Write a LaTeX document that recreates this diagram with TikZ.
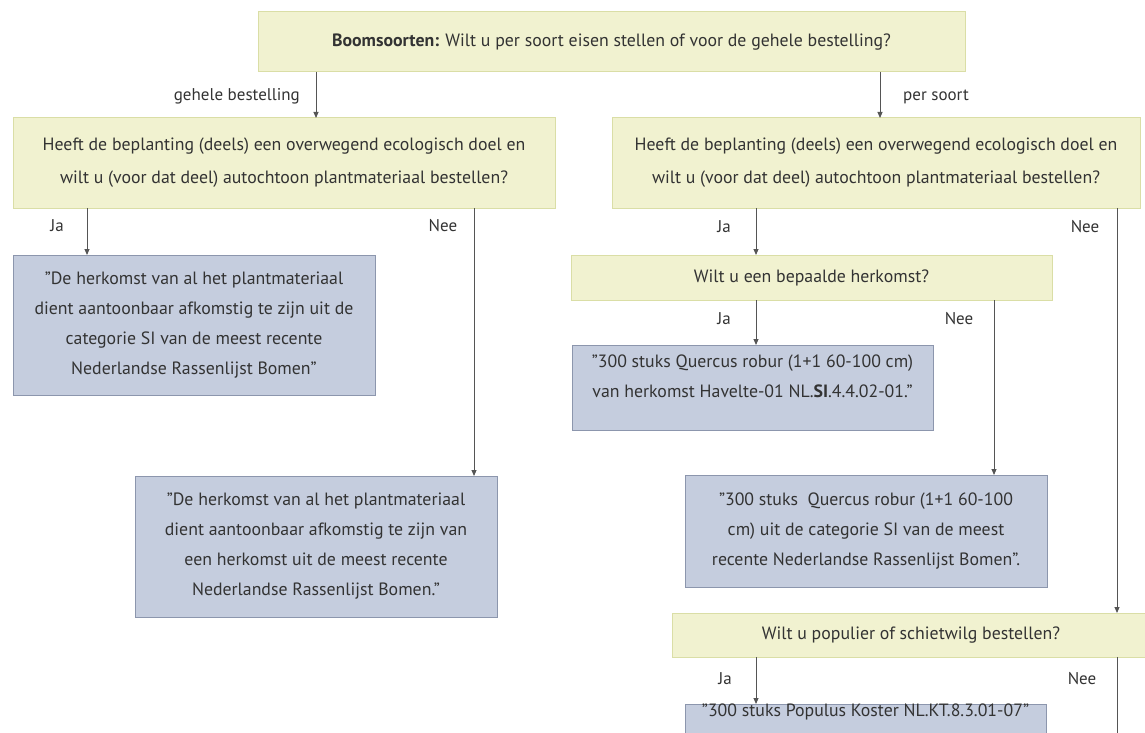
\documentclass[tikz,border=0pt]{standalone}
\usepackage{fontspec}
\setmainfont{PT Sans}
\usetikzlibrary{arrows.meta}
\definecolor{yfill}{HTML}{F1F2D0}
\definecolor{ydraw}{HTML}{DADEA6}
\definecolor{bfill}{HTML}{C5CDDE}
\definecolor{bdraw}{HTML}{8C96AD}
\definecolor{txt}{HTML}{333333}
\definecolor{arrc}{HTML}{555555}
\begin{document}
\begin{tikzpicture}[x=1pt,y=-1pt,
 box/.style={inner sep=0pt, outer sep=0pt, align=center, text=txt, line width=1pt},
 qbox/.style={box, fill=yfill, draw=ydraw, font=\fontsize{17.8}{33}\selectfont},
 abox/.style={box, fill=bfill, draw=bdraw, font=\fontsize{17.8}{30}\selectfont},
 arr/.style={draw=arrc, line width=0.9pt, -{Triangle[length=6pt,width=5pt]}},
 plain/.style={draw=arrc, line width=0.9pt},
 lbl/.style={text=txt, font=\fontsize{17}{20}\selectfont, inner sep=0pt}]
\useasboundingbox (0,0) rectangle (1145,733);
\clip (0,0) rectangle (1145,733);
% boxes
\node[qbox, minimum width=707pt, minimum height=60pt] (top) at (611.5,42)
 {\textbf{Boomsoorten:} Wilt u per soort eisen stellen of voor de gehele bestelling?};
\node[qbox, minimum width=542pt, minimum height=90pt] (lq) at (284,163)
 {Heeft de beplanting (deels) een overwegend ecologisch doel en\\wilt u (voor dat deel) autochtoon plantmateriaal bestellen?};
\node[qbox, minimum width=528pt, minimum height=90pt] (rq) at (876,163)
 {Heeft de beplanting (deels) een overwegend ecologisch doel en\\wilt u (voor dat deel) autochtoon plantmateriaal bestellen?};
\node[abox, minimum width=362pt, minimum height=140pt] (la) at (194,325)
 {"De herkomst van al het plantmateriaal\\dient aantoonbaar afkomstig te zijn uit de\\categorie SI van de meest recente\\Nederlandse Rassenlijst Bomen"};
\node[abox, minimum width=362pt, minimum height=141pt] (ln) at (316,546.5)
 {"De herkomst van al het plantmateriaal\\dient aantoonbaar afkomstig te zijn van\\een herkomst uit de meest recente\\Nederlandse Rassenlijst Bomen."};
\node[qbox, minimum width=481pt, minimum height=45pt] (hq) at (811.5,277.5)
 {Wilt u een bepaalde herkomst?};
\node[abox, minimum width=361pt, minimum height=85pt] (hja) at (752.5,387.5)
 {"300 stuks Quercus robur (1+1 60-100 cm)\\van herkomst Havelte-01 NL.\textbf{SI}.4.4.02-01."\\[-8pt]\mbox{}};
\node[abox, minimum width=362pt, minimum height=112pt] (hne) at (866,531)
 {"300 stuks\ \ Quercus robur (1+1 60-100\\cm) uit de categorie SI van de meest\\recente Nederlandse Rassenlijst Bomen".};
\node[qbox, minimum width=478pt, minimum height=44pt] (pq) at (911,635)
 {Wilt u populier of schietwilg bestellen?};
\node[abox, minimum width=361pt, minimum height=70pt, anchor=north] (pja) at (865.5,704)
 {"300 stuks Populus Koster NL.KT.8.3.01-07"\\[28pt]\mbox{}};
% x positions
\coordinate (x1) at (316,0);
\coordinate (x2) at (880,0);
\coordinate (x3) at (87,0);
\coordinate (x4) at (474,0);
\coordinate (x5) at (756,0);
\coordinate (x6) at (1117,0);
\coordinate (x7) at (994,0);
\coordinate (bot) at (1117,760);
% connectors
\draw[arr] (top.south -| x1) -- (lq.north -| x1);
\draw[arr] (top.south -| x2) -- (rq.north -| x2);
\draw[arr] (lq.south -| x3) -- (la.north -| x3);
\draw[arr] (lq.south -| x4) -- (ln.north -| x4);
\draw[arr] (rq.south -| x5) -- (hq.north -| x5);
\draw[arr] (rq.south -| x6) -- (pq.north -| x6);
\draw[arr] (hq.south -| x5) -- (hja.north -| x5);
\draw[arr] (hq.south -| x7) -- (hne.north -| x7);
\draw[arr] (pq.south -| x5) -- (pja.north -| x5);
\draw[plain] (pq.south -| x6) -- (bot);
% labels
\node[lbl, anchor=east] (l1) at (300,96) {gehele bestelling};
\node[lbl, anchor=west] (l2) at (903,97) {per soort};
\node[lbl] (l3) at (57,226) {Ja};
\node[lbl] (l4) at (443,226) {Nee};
\node[lbl] (l5) at (724,227) {Ja};
\node[lbl] (l6) at (1085,227) {Nee};
\node[lbl] (l7) at (724,319) {Ja};
\node[lbl] (l8) at (959,319) {Nee};
\node[lbl] (l9) at (725,679) {Ja};
\node[lbl] (l10) at (1082,679) {Nee};
\end{tikzpicture}
\end{document}
